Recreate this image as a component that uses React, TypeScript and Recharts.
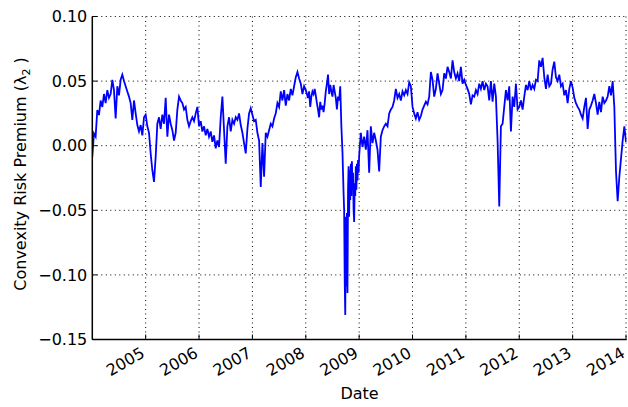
import React from "react";
import { LineChart, Line, XAxis, YAxis, CartesianGrid } from "recharts";

// Convexity risk premium (lambda_2), sampled within each segment at a fixed rate
const v2004 = [-0.0085, 0.0095, 0.007, 0.0276, 0.0237, 0.035, 0.03, 0.04, 0.033, 0.043, 0.037, 0.04, 0.051, 0.043, 0.021, 0.046, 0.039, 0.051, 0.055, 0.05, 0.046, 0.042, 0.038, 0.033, 0.02, 0.035, 0.025, 0.016, 0.011, 0.016, 0.008, 0.022];
const v2005 = [0.024, 0.015, 0.01, -0.006, -0.019, -0.028, -0.0085, 0.017, 0.022, 0.013, 0.024, 0.017, 0.037, 0.007, 0.024, 0.017, 0.012, 0.004, 0.01, 0.028, 0.038, 0.035, 0.033, 0.028, 0.03, 0.02, 0.015, 0.019, 0.022, 0.019, 0.025, 0.03];
const v2006 = [0.015, 0.019, 0.011, 0.015, 0.008, 0.013, 0.007, 0.011, 0.003, 0.008, -0.002, 0.004, -0.001, 0.022, 0.038, 0.012, -0.014, 0.015, 0.022, 0.011, 0.02, 0.017, 0.022, 0.02, 0.025, 0.016, 0.01, 0.002, -0.006, 0.013, 0.025, 0.029];
const v2007 = [0.024, 0.019, 0.02, 0.01, 0.004, -0.032, 0.002, -0.024, 0.01, 0.007, 0.012, 0.017, 0.015, 0.021, 0.025, 0.033, 0.03, 0.042, 0.035, 0.043, 0.031, 0.04, 0.035, 0.044, 0.039, 0.046, 0.053, 0.057, 0.052, 0.048, 0.04, 0.046];
const v2008a = [0.043, 0.04, 0.037, 0.042, 0.03, 0.038, 0.042, 0.04, 0.044, 0.039, 0.033, 0.028, 0.022, 0.034, 0.028, 0.031, 0.026, 0.033, 0.042, 0.048, 0.055, 0.04, 0.047, 0.042, 0.038, 0.047, 0.042, 0.037, 0.028, 0.038, 0.035, 0.046, 0.015];
const v2008b = [-0.005, -0.021, -0.037, -0.05, -0.104, -0.131, -0.055, -0.109, -0.052, -0.114, -0.034, -0.016, -0.055, -0.019, -0.042, -0.014, -0.039, -0.012, -0.034, -0.021, -0.05, -0.059, -0.029, -0.039, -0.016, -0.034, -0.014, -0.027, -0.011, -0.021];
const v2009 = [-0.008, 0.01, -0.001, 0.007, -0.003, 0.012, -0.021, 0.015, 0.002, 0.01, 0.004, -0.003, -0.02, 0.007, 0.012, 0.015, 0.017, 0.015, 0.025, 0.028, 0.03, 0.035, 0.044, 0.037, 0.04, 0.035, 0.042, 0.039, 0.043, 0.04, 0.049, 0.046];
const v2010 = [0.03, 0.025, 0.021, 0.026, 0.02, 0.023, 0.028, 0.031, 0.034, 0.032, 0.038, 0.057, 0.051, 0.038, 0.044, 0.056, 0.048, 0.04, 0.043, 0.056, 0.052, 0.061, 0.057, 0.052, 0.066, 0.057, 0.052, 0.056, 0.05, 0.061, 0.048, 0.051];
const v2011 = [0.047, 0.044, 0.04, 0.032, 0.039, 0.038, 0.043, 0.04, 0.048, 0.044, 0.05, 0.043, 0.048, 0.046, 0.035, 0.05, 0.034, 0.048, 0.038, 0.004, -0.047, 0.015, 0.017, 0.03, 0.043, 0.035, 0.046, 0.011, 0.038, 0.03, 0.048, 0.028];
const v2012 = [0.03, 0.035, 0.028, 0.038, 0.047, 0.043, 0.05, 0.043, 0.047, 0.044, 0.051, 0.05, 0.066, 0.061, 0.068, 0.053, 0.044, 0.055, 0.046, 0.048, 0.059, 0.065, 0.053, 0.05, 0.055, 0.046, 0.048, 0.039, 0.043, 0.033, 0.044, 0.05];
const v2013 = [0.045, 0.037, 0.033, 0.03, 0.028, 0.024, 0.021, 0.03, 0.037, 0.013, 0.028, 0.031, 0.035, 0.04, 0.033, 0.024, 0.034, 0.026, 0.038, 0.033, 0.035, 0.038, 0.046, 0.039, 0.05, 0.03, -0.02, -0.043, -0.024, -0.01, 0.004, 0.015];
const v2014 = [0.003];

// segment start dates (fractional years) and sampling rates (samples per year)
const segmentStarts = [2004, 2005, 2006, 2007, 2008, 2008.6875, 2009, 2010, 2011, 2012, 2013, 2014];
const segmentRates = [32, 32, 32, 32, 48, 96, 32, 32, 32, 32, 32, 32];
const segmentValues = [v2004, v2005, v2006, v2007, v2008a, v2008b, v2009, v2010, v2011, v2012, v2013, v2014];

const xTicks = [2005, 2006, 2007, 2008, 2009, 2010, 2011, 2012, 2013, 2014];
const yTicks = [-0.15, -0.1, -0.05, 0, 0.05, 0.1];
const xDomain = [2004, 2014.013];
const yDomain = [-0.15, 0.1];

const data: { date: number; value: number }[] = [];
segmentStarts.forEach((start, k) => {
  const n = segmentRates[k];
  segmentValues[k].forEach((v, i) => data.push({ date: start + i / n, value: v }));
});

const FONT = "'DejaVu Sans', sans-serif";
const fmtY = (v: number) => (v < 0 ? "\u2212" + Math.abs(v).toFixed(2) : v.toFixed(2));

const XTick = (props: any) => {
  const { x, y, payload } = props;
  return (
    <g>
      <line x1={x} y1={y} x2={x} y2={y - 5} stroke="#000" strokeWidth={1} />
      <g transform={`translate(${x - 5.8},${y + 6.5}) rotate(-30)`}>
        <text x={0} y={0} dy="0.73em" textAnchor="end" fontSize={16} fontFamily={FONT} fill="#000">
          {String(payload.value)}
        </text>
      </g>
    </g>
  );
};

const YTick = (props: any) => {
  const { x, y, payload } = props;
  return (
    <g>
      <line x1={x} y1={y} x2={x + 5} y2={y} stroke="#000" strokeWidth={1} />
      <text x={x - 5} y={y} dy="0.36em" textAnchor="end" fontSize={16} fontFamily={FONT} fill="#000">
        {fmtY(payload.value)}
      </text>
    </g>
  );
};

const YLabel = (props: any) => {
  const vb = props.viewBox || { x: 0, y: 0, width: 0, height: 0 };
  const cy = vb.y + vb.height / 2 - 4;
  const cx = 26;
  return (
    <text
      x={cx}
      y={cy}
      transform={`rotate(-90, ${cx}, ${cy})`}
      textAnchor="middle"
      fontSize={16}
      fontFamily={FONT}
      fill="#000"
    >
      Convexity Risk Premium (λ
      <tspan dy={4} fontSize={11}>2</tspan>
      <tspan dy={-4}> )</tspan>
    </text>
  );
};

const XLabel = (props: any) => {
  const vb = props.viewBox || { x: 0, y: 0, width: 0, height: 0 };
  const cx = vb.x + vb.width / 2;
  return (
    <text x={cx} y={399} textAnchor="middle" fontSize={16} fontFamily={FONT} fill="#000">
      Date
    </text>
  );
};

export default function App() {
  return (
    <div style={{ position: "fixed", left: 0, top: 0, width: 628, height: 407, background: "#fff" }}>
      <LineChart
        width={628}
        height={407}
        data={data}
        margin={{ top: 16.5, right: 1.3, left: 0, bottom: 0 }}
      >
        <CartesianGrid
          xAxisId="main"
          yAxisId="main"
          stroke="#000"
          strokeWidth={1}
          strokeDasharray="1 3.5"
          horizontalValues={yTicks}
          verticalValues={xTicks}
        />
        <XAxis
          xAxisId="main"
          dataKey="date"
          type="number"
          domain={xDomain}
          allowDataOverflow
          ticks={xTicks}
          interval={0}
          height={67.5}
          tickSize={0}
          tickMargin={0}
          tick={<XTick />}
          axisLine={{ stroke: "#000", strokeWidth: 1.5 }}
          label={<XLabel />}
        />
        <XAxis
          xAxisId="top"
          orientation="top"
          dataKey="date"
          type="number"
          domain={xDomain}
          allowDataOverflow
          ticks={xTicks}
          interval={0}
          height={0}
          mirror
          tick={false}
          tickSize={5}
          tickLine={{ stroke: "#000" }}
          axisLine={{ stroke: "#000", strokeWidth: 1.5 }}
        />
        <YAxis
          yAxisId="main"
          type="number"
          domain={yDomain}
          allowDataOverflow
          ticks={yTicks}
          interval={0}
          width={92.3}
          tickSize={0}
          tickMargin={0}
          tick={<YTick />}
          axisLine={{ stroke: "#000", strokeWidth: 1.5 }}
          label={<YLabel />}
        />
        <YAxis
          yAxisId="right"
          orientation="right"
          type="number"
          domain={yDomain}
          allowDataOverflow
          ticks={yTicks}
          interval={0}
          width={0}
          mirror
          tick={false}
          tickSize={5}
          tickLine={{ stroke: "#000" }}
          axisLine={{ stroke: "#000", strokeWidth: 1.5 }}
        />
        <Line
          xAxisId="main"
          yAxisId="main"
          type="linear"
          dataKey="value"
          stroke="#0000ff"
          strokeWidth={1.8}
          dot={false}
          activeDot={false}
          isAnimationActive={false}
        />
      </LineChart>
    </div>
  );
}
